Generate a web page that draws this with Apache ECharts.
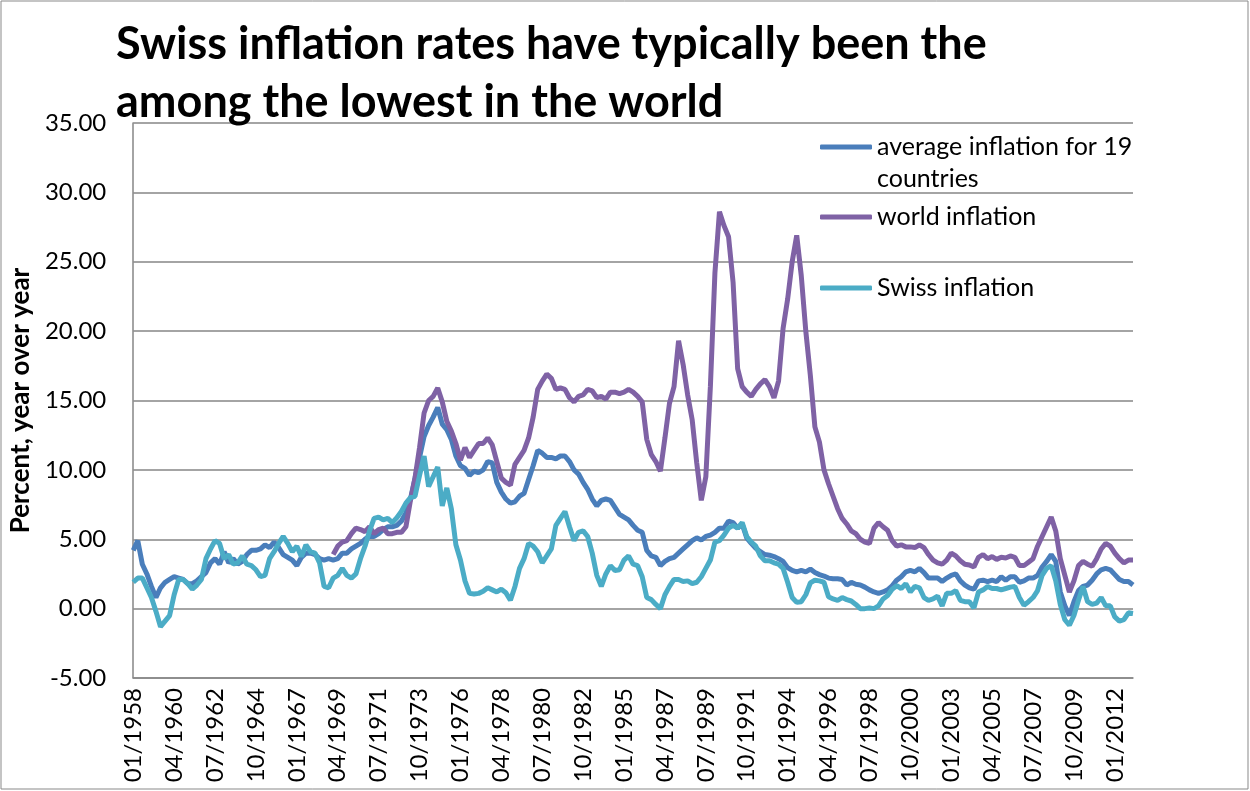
<!DOCTYPE html>
<html>
<head>
<meta charset="utf-8">
<script src="https://cdn.jsdelivr.net/npm/echarts@6/dist/echarts.min.js"></script>
<style>
html,body{margin:0;padding:0;background:#fff;}
#chart{width:1250px;height:791px;}
</style>
</head>
<body>
<div id="chart"></div>
<script>
// Quarterly categories 01/1958 ... 01/2013
const quarterMonths = ['01', '04', '07', '10'];
const categories = [];
for (let y = 1958; categories.length < 221; y++) {
  for (const m of quarterMonths) {
    if (categories.length < 221) categories.push(m + '/' + y);
  }
}

const avgInflation = [
  4.2, 4.9, 3.2, 2.5, 1.6, 0.8, 1.5, 1.9, 2.1, 2.3,
  2.2, 2.1, 1.8, 1.8, 2.0, 2.3, 2.6, 3.3, 3.6, 3.2,
  4.1, 3.3, 3.6, 3.2, 3.4, 3.9, 4.2, 4.2, 4.3, 4.6,
  4.4, 4.8, 4.4, 3.9, 3.7, 3.5, 3.1, 3.7, 4.0, 4.0,
  3.9, 3.6, 3.5, 3.6, 3.5, 3.6, 4.0, 4.0, 4.3, 4.5,
  4.7, 5.0, 5.2, 5.2, 5.4, 5.7, 5.9, 5.9, 6.0, 6.3,
  6.9, 7.9, 9.4, 10.9, 12.4, 13.2, 13.8, 14.5, 13.3, 12.9,
  12.2, 11.0, 10.3, 10.1, 9.6, 9.9, 9.8, 10.0, 10.6, 10.5,
  9.1, 8.4, 7.9, 7.6, 7.7, 8.1, 8.3, 9.3, 10.3, 11.4,
  11.2, 10.9, 10.9, 10.8, 11.0, 11.0, 10.6, 10.0, 9.7, 9.1,
  8.6, 7.9, 7.4, 7.8, 7.9, 7.8, 7.3, 6.8, 6.6, 6.4,
  6.0, 5.65, 5.5, 4.2, 3.8, 3.7, 3.1, 3.4, 3.6, 3.7,
  4.0, 4.3, 4.6, 4.9, 5.1, 4.95, 5.2, 5.3, 5.5, 5.8,
  5.8, 6.3, 6.2, 5.8, 6.1, 5.1, 4.7, 4.35, 4.1, 3.9,
  3.85, 3.75, 3.6, 3.4, 2.95, 2.75, 2.65, 2.75, 2.65, 2.85,
  2.6, 2.45, 2.35, 2.2, 2.15, 2.15, 2.1, 1.7, 1.9, 1.75,
  1.7, 1.55, 1.35, 1.2, 1.1, 1.2, 1.35, 1.65, 2.05, 2.3,
  2.65, 2.75, 2.65, 2.9, 2.6, 2.2, 2.2, 2.2, 1.95, 2.2,
  2.4, 2.5, 2.0, 1.7, 1.5, 1.4, 2.0, 2.05, 1.95, 2.05,
  1.95, 2.3, 2.05, 2.3, 2.3, 1.9, 2.0, 2.2, 2.2, 2.4,
  3.0, 3.4, 3.9, 3.4, 1.2, 0.2, -0.5, 0.5, 1.3, 1.6,
  1.7, 2.05, 2.5, 2.8, 2.9, 2.8, 2.45, 2.1, 1.95, 1.95, 1.7
];

const worldInflation = [
  null, null, null, null, null, null, null, null, null, null,
  null, null, null, null, null, null, null, null, null, null,
  null, null, null, null, null, null, null, null, null, null,
  null, null, null, null, null, null, null, null, null, null,
  null, null, null, null, 3.9, 4.5, 4.8, 4.9, 5.4, 5.8,
  5.7, 5.55, 5.9, 5.4, 5.7, 5.8, 5.4, 5.4, 5.5, 5.5,
  5.9, 7.8, 9.4, 11.6, 14.1, 15.0, 15.3, 15.9, 14.9, 13.5,
  12.8, 11.9, 10.7, 11.6, 10.9, 11.4, 11.9, 11.9, 12.3, 11.8,
  10.6, 9.4, 9.1, 8.9, 10.4, 10.9, 11.4, 12.3, 13.8, 15.8,
  16.4, 16.9, 16.6, 15.8, 15.9, 15.8, 15.2, 14.9, 15.3, 15.4,
  15.8, 15.7, 15.2, 15.3, 15.1, 15.6, 15.6, 15.5, 15.6, 15.8,
  15.6, 15.3, 14.9, 12.2, 11.1, 10.6, 9.9, 12.3, 14.8, 16.0,
  19.3, 17.6, 15.4, 13.6, 10.5, 7.8, 9.5, 16.0, 24.2, 28.6,
  27.6, 26.8, 23.5, 17.3, 16.0, 15.6, 15.3, 15.8, 16.2, 16.5,
  16.0, 15.2, 16.4, 20.2, 22.3, 25.0, 26.9, 24.0, 20.0, 16.8,
  13.1, 12.0, 10.0, 9.0, 8.1, 7.2, 6.5, 6.1, 5.6, 5.4,
  5.0, 4.8, 4.7, 5.8, 6.2, 5.9, 5.65, 4.9, 4.5, 4.6,
  4.45, 4.45, 4.4, 4.6, 4.4, 3.9, 3.5, 3.3, 3.2, 3.5,
  4.0, 3.8, 3.45, 3.2, 3.15, 3.0, 3.7, 3.9, 3.6, 3.75,
  3.55, 3.7, 3.65, 3.8, 3.7, 3.1, 3.1, 3.35, 3.6, 4.5,
  5.2, 5.9, 6.6, 5.6, 3.6, 2.4, 1.2, 2.0, 3.1, 3.4,
  3.2, 3.05, 3.6, 4.3, 4.7, 4.5, 4.0, 3.6, 3.3, 3.5, 3.5
];

const swissInflation = [
  1.9, 2.2, 2.2, 1.5, 0.8, -0.2, -1.3, -0.9, -0.5, 1.0,
  2.1, 2.1, 1.8, 1.4, 1.7, 2.1, 3.6, 4.3, 4.9, 4.7,
  3.6, 3.9, 3.2, 3.3, 3.8, 3.2, 3.1, 2.8, 2.3, 2.4,
  3.6, 4.1, 4.7, 5.2, 4.7, 4.1, 4.5, 3.75, 4.6, 4.1,
  4.0, 3.3, 1.6, 1.5, 2.2, 2.4, 2.9, 2.4, 2.2, 2.5,
  3.6, 4.5, 5.6, 6.5, 6.6, 6.4, 6.5, 6.2, 6.55, 7.0,
  7.6, 8.0, 8.1, 9.6, 11.0, 8.8, 9.5, 10.2, 7.4, 8.7,
  7.2, 4.6, 3.5, 2.0, 1.1, 1.05, 1.1, 1.25, 1.5, 1.35,
  1.2, 1.4, 1.15, 0.6, 1.6, 2.9, 3.6, 4.7, 4.5, 4.1,
  3.3, 3.8, 4.3, 6.0, 6.5, 7.0, 5.9, 4.9, 5.5, 5.6,
  5.2, 4.0, 2.4, 1.6, 2.5, 3.1, 2.75, 2.8, 3.5, 3.8,
  3.2, 3.1, 2.3, 0.8, 0.65, 0.3, 0.0, 1.0, 1.6, 2.1,
  2.1, 1.95, 2.0, 1.8, 1.9, 2.3, 2.9, 3.5, 4.8, 4.9,
  5.3, 5.8, 6.0, 5.8, 6.2, 5.2, 4.8, 4.5, 3.8, 3.45,
  3.45, 3.3, 3.2, 2.9, 1.9, 0.8, 0.45, 0.5, 1.0, 1.85,
  2.05, 2.0, 1.9, 0.85, 0.7, 0.6, 0.8, 0.65, 0.55, 0.3,
  0.0, 0.0, 0.05, 0.0, 0.2, 0.7, 0.95, 1.4, 1.65, 1.45,
  1.8, 1.2, 1.6, 1.5, 0.8, 0.6, 0.7, 0.9, 0.2, 1.1,
  1.1, 1.3, 0.6, 0.5, 0.5, 0.05, 1.2, 1.35, 1.6, 1.45,
  1.45, 1.35, 1.45, 1.55, 1.6, 0.8, 0.25, 0.5, 0.8, 1.3,
  2.4, 2.9, 3.1, 2.0, 0.3, -0.8, -1.2, -0.5, 0.6, 1.6,
  0.5, 0.3, 0.4, 0.8, 0.2, 0.2, -0.6, -0.9, -0.8, -0.3, -0.35
];

const seriesNames = ['average inflation for 19 countries', 'world inflation', 'Swiss inflation'];
const FONT = 'Lato, "Open Sans", sans-serif';
const colors = ['#4a7ebb', '#7f62a5', '#4bacc6'];

const chart = echarts.init(document.getElementById('chart'), null, {renderer: 'canvas'});

function legendAt(name, top, label) {
  return {
    data: [{name: name, icon: 'roundRect'}],
    left: 820,
    top: top,
    padding: 0,
    itemWidth: 52,
    itemHeight: 5,
    selectedMode: false,
    formatter: function () { return label; },
    textStyle: {fontSize: 25, fontFamily: FONT, color: '#000', lineHeight: 28}
  };
}

chart.setOption({
  animation: false,
  backgroundColor: '#fff',
  title: {
    text: 'Swiss inflation rates have typically been the\namong the lowest in the world',
    left: 116,
    top: 15,
    padding: 0,
    textStyle: {fontSize: 45, fontWeight: 'bold', fontFamily: FONT, color: '#000', lineHeight: 58}
  },
  legend: [
    legendAt(seriesNames[0], 133, 'average inflation for 19'),
    legendAt(seriesNames[1], 203, 'world inflation'),
    legendAt(seriesNames[2], 274, 'Swiss inflation')
  ],
  graphic: [
    {type: 'text', left: 877, top: 166, style: {text: 'countries', fontSize: 25, fontFamily: FONT, fill: '#000'}},
    {type: 'rect', shape: {x: 1, y: 1, width: 1247, height: 788}, style: {fill: 'none', stroke: '#898989', lineWidth: 1}, z: -1}
  ],
  grid: {left: 130, right: 117, top: 123, bottom: 113, containLabel: false},
  xAxis: {
    type: 'category',
    data: categories,
    boundaryGap: false,
    axisLine: {onZero: false, lineStyle: {color: '#868686', width: 1.5}},
    axisTick: {show: false},
    axisLabel: {interval: 8, rotate: 90, margin: 10, fontSize: 24, fontFamily: FONT, color: '#000'},
    splitLine: {show: false}
  },
  yAxis: {
    type: 'value',
    min: -5,
    max: 35,
    interval: 5,
    name: 'Percent, year over year',
    nameLocation: 'middle',
    nameGap: 96,
    nameTextStyle: {fontSize: 26, fontWeight: 'bold', fontFamily: FONT, color: '#000'},
    axisLine: {show: true, lineStyle: {color: '#868686', width: 1.5}},
    axisTick: {show: false},
    axisLabel: {margin: 27, fontSize: 24, fontFamily: FONT, color: '#000', formatter: v => v.toFixed(2)},
    splitLine: {lineStyle: {color: '#868686', width: 1.5}}
  },
  series: [
    {name: seriesNames[0], type: 'line', data: avgInflation, symbol: 'none', lineStyle: {width: 5, color: colors[0]}, itemStyle: {color: colors[0]}},
    {name: seriesNames[1], type: 'line', data: worldInflation, symbol: 'none', connectNulls: false, lineStyle: {width: 5, color: colors[1]}, itemStyle: {color: colors[1]}},
    {name: seriesNames[2], type: 'line', data: swissInflation, symbol: 'none', lineStyle: {width: 5, color: colors[2]}, itemStyle: {color: colors[2]}}
  ]
});
</script>
</body>
</html>
